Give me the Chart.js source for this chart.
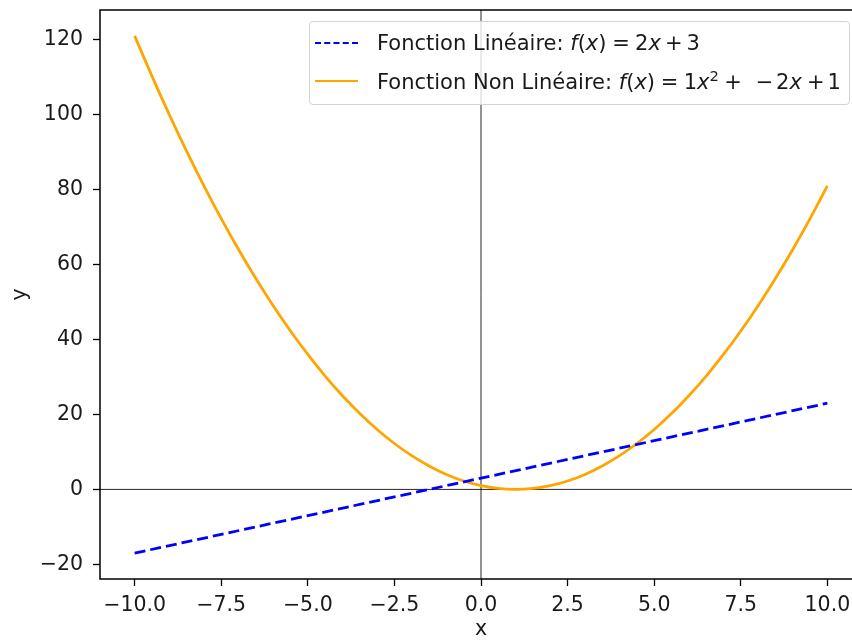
<!DOCTYPE html>
<html>
<head>
<meta charset="utf-8">
<script src="https://cdn.jsdelivr.net/npm/chart.js@4.4.1/dist/chart.umd.min.js"></script>
<style>
  html, body { margin: 0; padding: 0; background: #fff; }
  #wrap { position: relative; width: 852px; height: 640px; overflow: hidden; }
  canvas { position: absolute; left: 0; top: 0; }
  #legend {
    position: absolute; left: 309px; top: 21px; width: 541px; height: 84px;
    border: 1px solid #d4d4d4; border-radius: 4px; background: rgba(255,255,255,0.8);
    font-family: "DejaVu Sans", sans-serif; font-size: 21px; color: #1a1a1a;
    box-sizing: border-box;
  }
  .row { position: absolute; left: 0; height: 24px; line-height: 24px; white-space: nowrap; }
  .row .sw { position: absolute; left: 5px; width: 43px; height: 0; }
  .row .tx { position: absolute; left: 67px; top: 0; }
  .row i { font-style: italic; }
  .rel { margin: 0 5.2px 0 5.8px; }
  .bin { margin: 0 3.8px 0 4.2px; }
  .row sup { font-size: 14.7px; line-height: 0; vertical-align: 8px; }
</style>
</head>
<body>
<div id="wrap">
  <canvas id="chart" width="870" height="640"></canvas>
  <div id="legend">
    <div class="row" style="top:9.4px">
      <div class="sw" style="top:10.5px; border-top:2.8px dashed #0000ff"></div>
      <span class="tx">Fonction Linéaire: <i>f</i>(<i>x</i>)<span class="rel">=</span>2<i>x</i><span class="bin">+</span>3</span>
    </div>
    <div class="row" style="top:48px">
      <div class="sw" style="top:9.6px; border-top:2.8px solid #ffa500"></div>
      <span class="tx">Fonction Non Linéaire: <i>f</i>(<i>x</i>)<span class="rel">=</span>1<i>x</i><sup>2</sup><span class="bin" style="margin-left:5.4px; margin-right:4px">+</span><span class="bin" style="margin-left:10px; margin-right:2.7px">−</span>2<i>x</i><span class="bin" style="margin-left:5.2px; margin-right:2.9px">+</span>1</span>
    </div>
  </div>
</div>
<script>
// values
const linX = [-10, -5, 0, 5, 10];
const linY = [-17, -7, 3, 13, 23];

const quadX = [-10, -9.5, -9, -8.5, -8, -7.5, -7, -6.5, -6, -5.5, -5, -4.5, -4, -3.5, -3, -2.5, -2, -1.5, -1, -0.5,
               0, 0.5, 1, 1.5, 2, 2.5, 3, 3.5, 4, 4.5, 5, 5.5, 6, 6.5, 7, 7.5, 8, 8.5, 9, 9.5, 10];
const quadY = [121, 110.25, 100, 90.25, 81, 72.25, 64, 56.25, 49, 42.25, 36, 30.25, 25, 20.25, 16, 12.25, 9, 6.25, 4, 2.25,
               1, 0.25, 0, 0.25, 1, 2.25, 4, 6.25, 9, 12.25, 16, 20.25, 25, 30.25, 36, 42.25, 49, 56.25, 64, 72.25, 81];

const xTicks = [-10, -7.5, -5, -2.5, 0, 2.5, 5, 7.5, 10];
const yTicks = [-20, 0, 20, 40, 60, 80, 100, 120];

const FONT = "'DejaVu Sans', sans-serif";
const minus = s => String(s).replace('-', '\u2212');

const toPts = (xs, ys) => xs.map((x, i) => ({x: x, y: ys[i]}));

// zero lines + frame
const frame = {
  id: 'frame',
  beforeDatasetsDraw(chart) {
    const {ctx, chartArea: a, scales} = chart;
    const x0 = scales.x.getPixelForValue(0);
    const y0 = scales.y.getPixelForValue(0);
    ctx.save();
    ctx.strokeStyle = 'rgba(0,0,0,0.85)';
    ctx.lineWidth = 1;
    ctx.beginPath();
    ctx.moveTo(a.left, y0); ctx.lineTo(a.right, y0);
    ctx.moveTo(x0, a.top); ctx.lineTo(x0, a.bottom);
    ctx.stroke();
    ctx.restore();
  },
  afterDraw(chart) {
    const {ctx, chartArea: a} = chart;
    ctx.save();
    ctx.strokeStyle = '#000';
    ctx.lineWidth = 1.5;
    ctx.strokeRect(a.left, a.top, a.right - a.left, a.bottom - a.top);
    ctx.restore();
  }
};

new Chart(document.getElementById('chart'), {
  type: 'scatter',
  data: {
    datasets: [{
      label: 'Fonction Linéaire',
      data: toPts(linX, linY),
      showLine: true,
      borderColor: '#0000ff',
      borderWidth: 2.8,
      borderDash: [11, 5],
      pointRadius: 0
    }, {
      label: 'Fonction Non Linéaire',
      data: toPts(quadX, quadY),
      showLine: true,
      borderColor: '#ffa500',
      borderWidth: 2.8,
      cubicInterpolationMode: 'monotone',
      pointRadius: 0
    }]
  },
  options: {
    responsive: false,
    animation: false,
    layout: { padding: { top: 10, right: 8, left: 0, bottom: 0 } },
    plugins: { legend: { display: false }, tooltip: { enabled: false } },
    scales: {
      x: {
        type: 'linear',
        min: -11, max: 11,
        bounds: 'data',
        afterBuildTicks: s => { s.ticks = xTicks.map(v => ({value: v})); },
        afterFit: s => { s.height = 61; s.paddingLeft = 0; s.paddingRight = 0; },
        border: { display: false },
        grid: { drawOnChartArea: false, drawTicks: true, tickLength: 7, color: '#000', tickWidth: 1.3 },
        ticks: {
          padding: 7, color: '#1a1a1a', maxRotation: 0, autoSkip: false,
          font: { family: FONT, size: 20.5 },
          callback: v => minus(Number(v).toFixed(1))
        },
        title: { display: true, text: 'x', color: '#1a1a1a', font: { family: FONT, size: 20.5 }, padding: { top: 0, bottom: -2 } }
      },
      y: {
        type: 'linear',
        min: -23.9, max: 127.9,
        bounds: 'data',
        afterBuildTicks: s => { s.ticks = yTicks.map(v => ({value: v})); },
        afterFit: s => { s.width = 100; s.paddingTop = 0; s.paddingBottom = 0; },
        border: { display: false },
        grid: { drawOnChartArea: false, drawTicks: true, tickLength: 7, color: '#000', tickWidth: 1.3 },
        ticks: {
          padding: 10, color: '#1a1a1a', autoSkip: false,
          font: { family: FONT, size: 20.5 },
          callback: v => minus(v)
        },
        title: { display: true, text: 'y', color: '#1a1a1a', font: { family: FONT, size: 20.5 }, padding: { top: 8, bottom: 0 } }
      }
    }
  },
  plugins: [frame]
});
</script>
</body>
</html>
